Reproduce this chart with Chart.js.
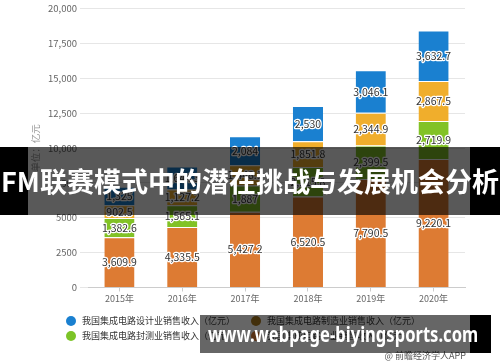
<!DOCTYPE html>
<html lang="zh">
<head>
  <meta charset="UTF-8">
  <title>我国集成电路销售收入</title>
  <script src="https://cdn.jsdelivr.net/npm/chart.js"></script>
  <style>
    html, body { margin: 0; padding: 0; background: #fff; }
    #wrap {
      position: relative;
      width: 500px;
      height: 362px;
      overflow: hidden;
      font-family: "Noto Sans CJK SC", sans-serif;
    }
    canvas { display: block; }
    .legend {
      position: absolute;
      left: 66px;
      top: 315px;
      display: grid;
      grid-template-columns: 185px 185px;
      row-gap: 3px;
      font-size: 9px;
      line-height: 12px;
      color: #333;
    }
    .legend span.dot {
      display: inline-block;
      width: 10px;
      height: 10px;
      border-radius: 50%;
      vertical-align: -2px;
      margin-right: 6px;
    }
    .credit {
      position: absolute;
      right: 34px;
      top: 349px;
      font-size: 9px;
      color: #555;
    }
    .box { position: absolute; }
    .banner-text {
      position: absolute;
      left: 0;
      width: 500px;
      top: 147px;
      height: 68px;
      line-height: 68px;
      text-align: center;
      white-space: nowrap;
      color: #fff;
      font-weight: 700;
      font-size: 27px;
    }
    .wm-text {
      position: absolute;
      left: 208px;
      top: 315px;
      height: 38px;
      line-height: 38px;
      white-space: nowrap;
      color: #fff;
      font-family: "Noto Sans", sans-serif;
      font-weight: 700;
      font-size: 21px;
      transform-origin: 0 50%;
    }
  </style>
</head>
<body>
<div id="wrap">
  <canvas id="icChart" width="500" height="362"></canvas>
  <div class="legend" id="legend"></div>
  <div class="credit">@ 前瞻经济学人APP</div>

  <div class="box" style="left:0;top:147px;width:28px;height:68px;background:#000"></div>
  <div class="box" style="left:28px;top:147px;width:442px;height:68px;background:rgba(0,0,0,0.65)"></div>
  <div class="box" style="left:470px;top:147px;width:30px;height:68px;background:#000"></div>
  <div class="banner-text">FM联赛模式中的潜在挑战与发展机会分析</div>

  <div class="box" style="left:200px;top:315px;width:270px;height:38px;background:rgba(0,0,0,0.6)"></div>
  <div class="box" style="left:470px;top:315px;width:21px;height:38px;background:#000"></div>
  <div class="wm-text" id="wm">www.webpage-biyingsports.com</div>
</div>
<script>
  const years = ['2015年', '2016年', '2017年', '2018年', '2019年', '2020年'];
  const industrySales = [3609.9, 4335.5, 5427.2, 6520.5, 7790.5, 9220.1];
  const packagingSales = [1382.6, 1565.1, 1887.0, 2115.8, 2399.5, 2719.9];
  const manufacturingSales = [902.5, 1127.2, 1448.1, 1851.8, 2344.9, 2867.5];
  const designSales = [1325.0, 1644.3, 2084, 2530, 3046.1, 3632.7];
  const yMax = 20000;
  const yStep = 2500;

  const fmt = v => v.toLocaleString('en-US', { maximumFractionDigits: 1 });

  // value labels in the middle of every segment, white halo like the original
  const barLabels = {
    id: 'barLabels',
    afterDatasetsDraw(chart) {
      const ctx = chart.ctx;
      ctx.save();
      ctx.font = '10.5px "Noto Sans CJK SC"';
      ctx.textAlign = 'center';
      ctx.textBaseline = 'middle';
      ctx.lineJoin = 'round';
      ctx.lineWidth = 2.5;
      ctx.strokeStyle = '#fff';
      ctx.fillStyle = '#333';
      chart.data.datasets.forEach((ds, i) => {
        chart.getDatasetMeta(i).data.forEach((bar, j) => {
          const p = bar.getCenterPoint();
          const t = fmt(ds.data[j]);
          ctx.strokeText(t, p.x, p.y);
          ctx.fillText(t, p.x, p.y);
        });
      });
      ctx.restore();
    }
  };

  const ctx = document.getElementById('icChart').getContext('2d');
  const chart = new Chart(ctx, {
    type: 'bar',
    data: {
      labels: years,
      datasets: [
        { label: '我国集成电路产业销售收入（亿元）', data: industrySales, backgroundColor: '#dd7b33', legendColor: '#dd7b33' },
        { label: '我国集成电路封测业销售收入（亿元）', data: packagingSales, backgroundColor: '#82c226', legendColor: '#7cc427' },
        { label: '我国集成电路制造业销售收入（亿元）', data: manufacturingSales, backgroundColor: '#f0ae2c', legendColor: '#a5751c' },
        { label: '我国集成电路设计业销售收入（亿元）', data: designSales, backgroundColor: '#1a80d0', legendColor: '#1a80d0' }
      ]
    },
    options: {
      responsive: false,
      animation: false,
      layout: { padding: { left: 28, right: 35, top: 7, bottom: 50.5 } },
      datasets: {
        bar: {
          barPercentage: 0.48,
          categoryPercentage: 1,
          borderColor: '#fff',
          borderWidth: { top: 1, bottom: 0, left: 0, right: 0 },
          borderSkipped: false
        }
      },
      plugins: {
        legend: { display: false },
        tooltip: { enabled: false }
      },
      scales: {
        x: {
          stacked: true,
          afterFit: s => { s.height = 24; },
          grid: { display: true, drawOnChartArea: false, offset: false, tickLength: 4, color: '#ccc' },
          border: { color: '#ccc' },
          ticks: { color: '#666', font: { size: 9, family: '"Noto Sans CJK SC"' }, padding: 2 }
        },
        y: {
          stacked: true,
          min: 0,
          max: yMax,
          afterFit: s => { s.width = 60; },
          grid: { color: '#e6e6e6', tickLength: 8 },
          border: { display: false },
          ticks: {
            stepSize: yStep,
            color: '#666',
            padding: 3,
            font: { size: 9.5, family: '"Noto Sans CJK SC"' },
            callback: v => v >= 10000 ? v.toLocaleString('en-US') : String(v)
          },
          title: {
            display: true,
            text: '单位：亿元',
            color: '#999',
            padding: { top: 2, bottom: 2 },
            font: { size: 9.5, family: '"Noto Sans CJK SC"' }
          }
        }
      }
    },
    plugins: [barLabels]
  });

  // legend in the original's order: design, manufacturing, packaging, industry
  const legendOrder = [3, 2, 1, 0];
  document.getElementById('legend').innerHTML = legendOrder.map(i => {
    const ds = chart.data.datasets[i];
    return '<div><span class="dot" style="background:' + ds.legendColor + '"></span>' + ds.label + '</div>';
  }).join('');

  // squeeze the watermark line to the width it has in the picture
  const wm = document.getElementById('wm');
  wm.style.transform = 'scaleX(' + (270 / wm.offsetWidth) + ')';
</script>
</body>
</html>
